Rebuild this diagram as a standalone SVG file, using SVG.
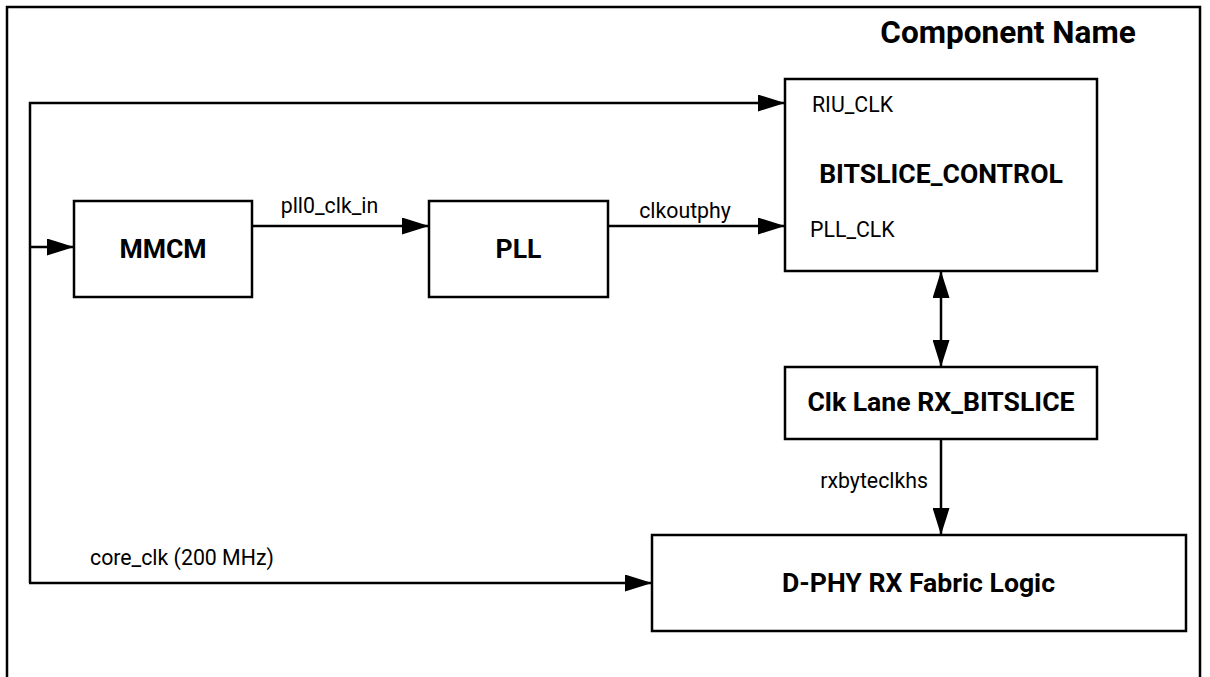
<svg xmlns="http://www.w3.org/2000/svg" width="1210" height="677" viewBox="0 0 1210 677">
<style>
.box{fill:#fff;stroke:#000;stroke-width:2.5}
.ln{fill:none;stroke:#000;stroke-width:2.5}
.b{font-family:Roboto,"Liberation Sans",sans-serif;font-weight:bold;font-size:26.6px;fill:#000}
.r{font-family:Roboto,"Liberation Sans",sans-serif;font-size:21.3px;fill:#000}
</style>
<defs>
<marker id="ah" viewBox="0 0 27 17" refX="27" refY="8.5" markerWidth="27" markerHeight="17" markerUnits="userSpaceOnUse" orient="auto-start-reverse">
<path d="M0,0 L27,8.5 L0,17 Z" fill="#000"/>
</marker>
</defs>
<rect width="1210" height="677" fill="#fff"/>
<path class="ln" d="M7,680 V7 H1200 V680"/>
<text class="b" x="1008" y="43" text-anchor="middle" style="font-size:31.5px">Component Name</text>
<g id="connectors">
<path class="ln" d="M30,583 V103 H785" marker-end="url(#ah)"/>
<path class="ln" d="M30,247 H74" marker-end="url(#ah)"/>
<path class="ln" d="M252,226 H429" marker-end="url(#ah)"/>
<path class="ln" d="M608,226 H785" marker-end="url(#ah)"/>
<path class="ln" d="M941,271 V367" marker-start="url(#ah)" marker-end="url(#ah)"/>
<path class="ln" d="M941,439 V535" marker-end="url(#ah)"/>
<path class="ln" d="M29,583 H652" marker-end="url(#ah)"/>
<text class="r" x="329.5" y="213" text-anchor="middle">pll0_clk_in</text>
<text class="r" x="685" y="218" text-anchor="middle">clkoutphy</text>
<text class="r" x="928" y="488" text-anchor="end">rxbyteclkhs</text>
<text class="r" x="90" y="565">core_clk (200 MHz)</text>
</g>
<g id="mmcm">
<rect class="box" x="74" y="201" width="178" height="96"/>
<text class="b" x="163" y="258" text-anchor="middle">MMCM</text>
</g>
<g id="pll">
<rect class="box" x="429" y="201" width="179" height="96"/>
<text class="b" x="518.5" y="258" text-anchor="middle">PLL</text>
</g>
<g id="bitslice_control">
<rect class="box" x="785" y="79" width="312" height="192"/>
<text class="r" x="812" y="112">RIU_CLK</text>
<text class="b" x="941" y="183" text-anchor="middle">BITSLICE_CONTROL</text>
<text class="r" x="810" y="237">PLL_CLK</text>
</g>
<g id="clk_lane">
<rect class="box" x="785" y="367" width="312" height="72"/>
<text class="b" x="941" y="411" text-anchor="middle">Clk Lane RX_BITSLICE</text>
</g>
<g id="dphy">
<rect class="box" x="652" y="535" width="534" height="96"/>
<text class="b" x="918.5" y="592" text-anchor="middle">D-PHY RX Fabric Logic</text>
</g>
</svg>
